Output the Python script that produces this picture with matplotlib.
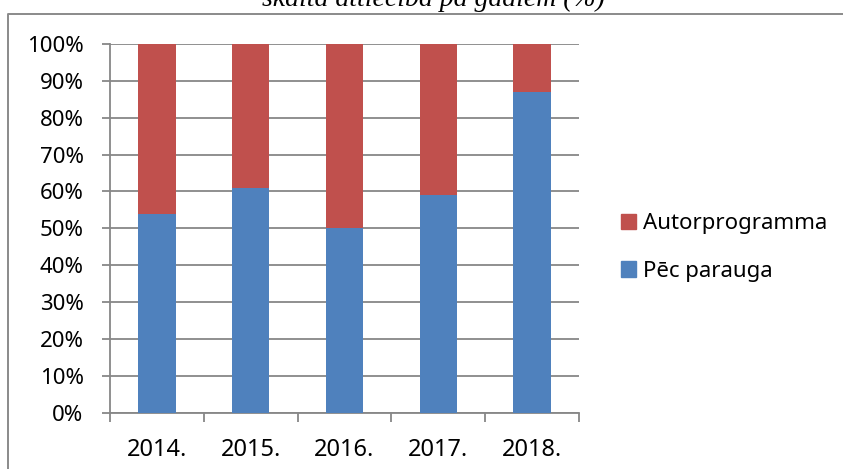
import matplotlib
matplotlib.use('Agg')
import matplotlib.pyplot as plt
from matplotlib.lines import Line2D
from matplotlib.patches import Patch
from matplotlib.ticker import PercentFormatter, FixedLocator, NullFormatter

years = ['2014.', '2015.', '2016.', '2017.', '2018.']
pec_parauga = [54, 61, 50, 59, 87]
autorprogramma = [100 - v for v in pec_parauga]

blue = '#4F81BD'
red = '#C0504D'
grey = '#878787'

W, H = 843, 469
plt.rcParams['font.family'] = ['Noto Sans', 'DejaVu Sans']

fig = plt.figure(figsize=(W / 100, H / 100), dpi=100)
ax = fig.add_axes([110 / W, 1 - 412.7 / H, (579 - 110) / W, (412.7 - 44) / H])

x = range(len(years))
ax.bar(x, pec_parauga, width=0.4, color=blue, zorder=3)
ax.bar(x, autorprogramma, width=0.4, bottom=pec_parauga, color=red, zorder=3)

ax.set_xlim(-0.5, len(years) - 0.5)
ax.set_ylim(0, 100)
ax.set_yticks(range(0, 101, 10))
ax.yaxis.set_major_formatter(PercentFormatter(decimals=0))
ax.grid(axis='y', color=grey, linewidth=1.3, zorder=0)

ax.set_xticks(list(x))
ax.set_xticklabels(years)
ax.xaxis.set_minor_locator(FixedLocator([i - 0.5 for i in range(len(years) + 1)]))
ax.xaxis.set_minor_formatter(NullFormatter())
ax.tick_params(axis='x', which='major', length=0, pad=18, labelsize=17)
ax.tick_params(axis='x', which='minor', length=6.5, width=1.3, color=grey, direction='out')
ax.tick_params(axis='y', length=6, width=1.3, color=grey, direction='out', pad=13, labelsize=16)

for s in ['top', 'right']:
    ax.spines[s].set_visible(False)
for s in ['left', 'bottom']:
    ax.spines[s].set_color(grey)
    ax.spines[s].set_linewidth(1.3)

handles = [Patch(color=red, label='Autorprogramma'), Patch(color=blue, label='Pēc parauga')]
fig.legend(handles=handles, loc='center left', bbox_to_anchor=(621 / W, 1 - 247.5 / H),
           frameon=False, fontsize=16, borderpad=0, borderaxespad=0,
           handlelength=0.68, handleheight=0.68, handletextpad=0.3, labelspacing=1.2)

# outer frame of the chart object (only top and left edges visible in crop)
fig.add_artist(Line2D([8 / W, 8 / W, 1], [0, 1 - 14.5 / H, 1 - 14.5 / H],
                      transform=fig.transFigure, color='#8a8a8a', linewidth=1.4))

# title, cut off at the top of the picture
fig.text(433 / W, 1 - 6 / H, 'skaita attiecība pa gadiem (%)', ha='center', va='baseline',
         fontsize=20, style='italic', family=['Liberation Serif', 'DejaVu Serif'])

fig.savefig('out.png', dpi=100)
